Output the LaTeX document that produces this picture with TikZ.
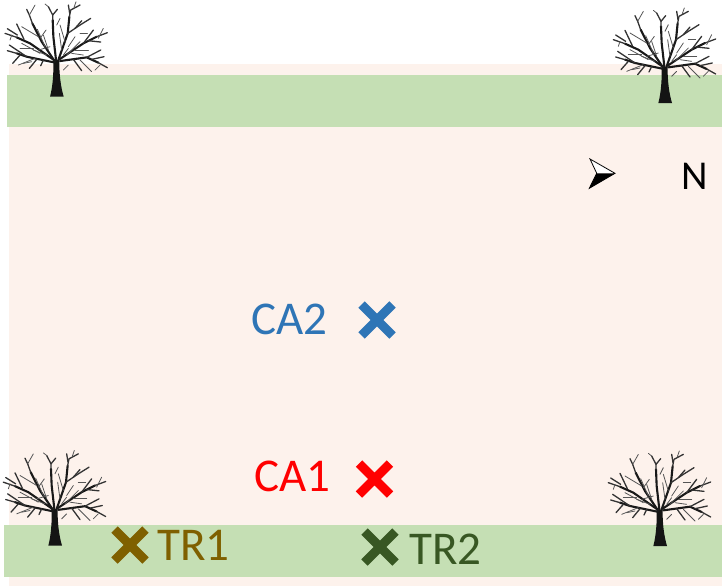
\documentclass[tikz,border=0pt]{standalone}
\usepackage{fontspec}
\setmainfont{Carlito}
\definecolor{bgpink}{HTML}{FDF2EC}
\definecolor{bandgreen}{HTML}{C5DFB4}
\definecolor{cablue}{HTML}{2E75B6}
\definecolor{trbrown}{HTML}{7F6000}
\definecolor{trgreen}{HTML}{385723}
\definecolor{twiggray}{HTML}{555555}
\tikzset{
  x=1pt,y=-1pt,
  lbl/.style={inner sep=0pt,font=\fontsize{47}{47}\selectfont},
  limb/.style={line width=2.1pt,line cap=round,line join=round,black!90},
  bough/.style={line width=1.3pt,line cap=round,line join=round,black!80},
  twig/.style={line width=.8pt,line cap=round,line join=round,twiggray},
  tree/.pic={
    \begin{scope}[x=.3333pt,y=-.3333pt,shift={(-170,-290)}]
      \fill[black!92] (150,290) .. controls (158,260) and (161,220) .. (160,180)
        -- (178,180) .. controls (177,220) and (182,260) .. (191,290) -- cycle;
      \draw[limb] (165,185) -- (125,125) -- (97,70);
      \draw[limb] (168,180) -- (160,110) -- (158,60);
      \draw[limb] (175,180) -- (203,100) -- (208,50);
      \draw[limb] (178,178) -- (250,130) -- (290,110);
      \draw[limb] (180,183) -- (260,172) -- (295,188);
      \draw[limb] (162,180) -- (90,130) -- (50,112);
      \draw[limb] (162,187) -- (80,170) -- (50,160);
      \draw[bough] (97,70) -- (88,45) -- (80,28);
      \draw[bough] (158,60) -- (158,45) -- (145,20);
      \draw[bough] (158,45) -- (172,28);
      \draw[bough] (208,50) -- (212,30) -- (240,15);
      \draw[bough] (209,40) -- (205,15);
      \draw[bough] (203,100) -- (240,75) -- (272,55);
      \draw[bough] (225,85) -- (245,62);
      \draw[bough] (290,110) -- (322,98);
      \draw[bough] (250,130) -- (280,90);
      \draw[bough] (265,122) -- (302,126);
      \draw[bough] (295,188) -- (322,203);
      \draw[bough] (260,172) -- (302,150);
      \draw[bough] (220,178) -- (245,212);
      \draw[bough] (275,178) -- (312,170);
      \draw[bough] (50,112) -- (15,100);
      \draw[bough] (72,118) -- (50,72);
      \draw[bough] (52,105) -- (22,86);
      \draw[bough] (50,160) -- (22,152);
      \draw[bough] (80,170) -- (28,135);
      \draw[bough] (110,178) -- (88,205);
      \draw[bough] (130,180) -- (122,197);
      \draw[bough] (60,165) -- (38,190);
      \draw[twig] (115,110) -- (65,80);
      \draw[twig] (135,140) -- (112,88);
      \draw[twig] (145,150) -- (130,105);
      \draw[twig] (185,150) -- (178,100);
      \draw[twig] (195,125) -- (180,75);
      \draw[twig] (225,150) -- (265,150);
      \draw[twig] (200,165) -- (240,125);
      \draw[twig] (240,180) -- (275,215);
      \draw[twig] (120,160) -- (65,130);
      \draw[twig] (105,175) -- (55,195);
      \draw[twig] (170,75) -- (180,55);
      \draw[twig] (145,20) -- (135,12);
      \draw[twig] (88,45) -- (105,15);
      \draw[twig] (222,22) -- (228,5);
      \draw[twig] (295,115) -- (310,85);
      \draw[twig] (205,195) -- (190,210);
      \draw[twig] (150,140) -- (115,150);
      \draw[twig] (100,145) -- (60,145);
      \draw[twig] (140,165) -- (100,150);
      \draw[twig] (205,140) -- (225,110);
      \draw[twig] (215,160) -- (250,165);
      \draw[twig] (120,115) -- (138,90);
      \draw[twig] (35,105) -- (30,120);
      \draw[twig] (70,190) -- (95,185);
      \draw[twig] (300,195) -- (285,210);
      \draw[twig] (240,100) -- (262,100);
      \draw[twig] (190,165) -- (205,145);
    \end{scope}
  },
  crossmark/.pic={
    \draw[line width=9pt,pic actions] (-15.5,-15.5) -- (15.5,15.5) (-15.5,15.5) -- (15.5,-15.5);
  }
}
\begin{document}
\begin{tikzpicture}
\useasboundingbox (0,0) rectangle (722,586);
\fill[bgpink] (9,64) rectangle (722,586);
\fill[bandgreen] (7,75) rectangle (722,127);
\fill[bandgreen] (4,525) rectangle (722,577);
\pic at (56.7,96.7) {tree};
\pic at (665,103) {tree};
\pic at (55,545.5) {tree};
\pic at (660,546) {tree};
\fill[white] (590,159) -- (615,173.3) -- (596.7,173.3) -- cycle;
\fill[black] (589.3,188.3) -- (615,173.3) -- (596.7,173.3) -- cycle;
\draw[black,line width=.8pt,line join=miter] (590,159) -- (615,173.3) -- (589.3,188.3) -- (596.7,173.3) -- cycle;
\node[inner sep=0pt,font=\fontsize{41}{41}\selectfont] (north) at (695,176) {N};
\node[lbl,text=cablue] (ca2) at (289.5,319) {CA2};
\node[lbl,text=red] (ca1) at (292.5,476) {CA1};
\node[lbl,text=trbrown] (tr1) at (193.5,545) {TR1};
\node[lbl,text=trgreen] (tr2) at (445.5,549) {TR2};
\pic[cablue] at (377,320) {crossmark};
\pic[red] at (374.5,479) {crossmark};
\pic[trbrown] at (130,545) {crossmark};
\pic[trgreen] at (380,547) {crossmark};
\end{tikzpicture}
\end{document}
